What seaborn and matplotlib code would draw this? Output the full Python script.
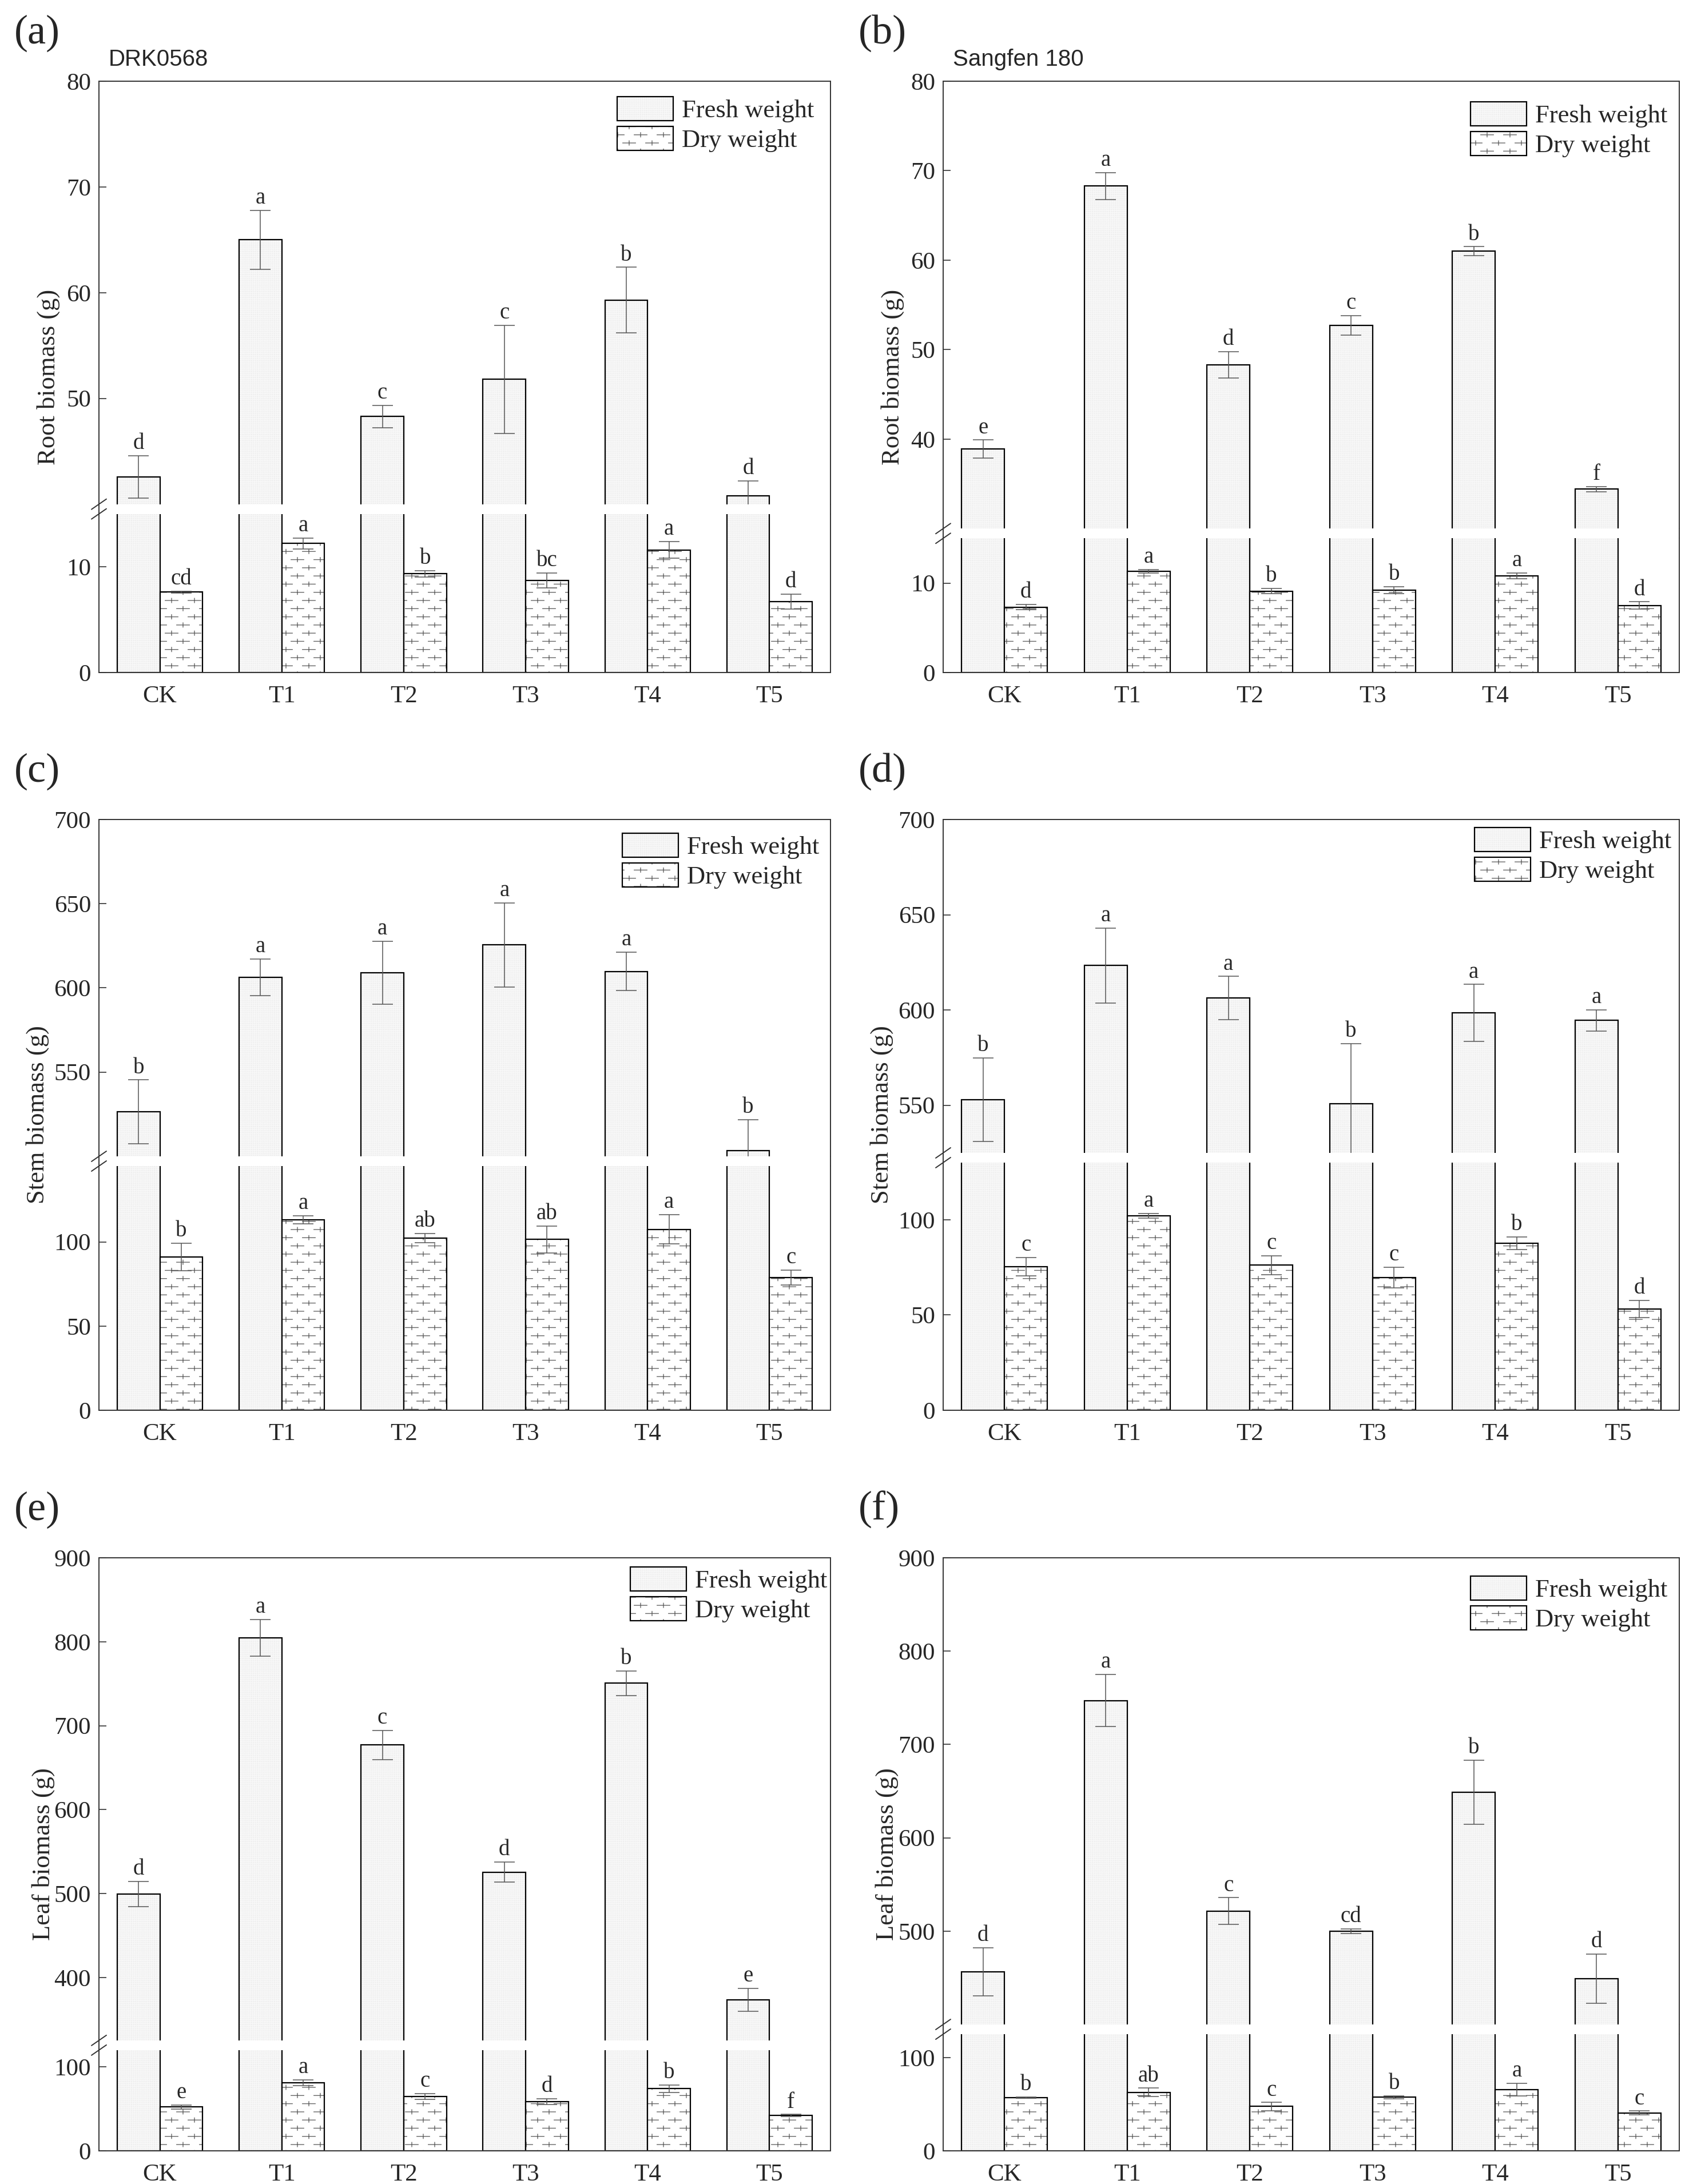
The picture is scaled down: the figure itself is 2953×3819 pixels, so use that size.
import numpy as np
import pandas as pd
import matplotlib
matplotlib.use("Agg")
import matplotlib.pyplot as plt
import matplotlib.hatch as mhatch
from matplotlib.lines import Line2D
from matplotlib.path import Path
import seaborn as sns

# ---------------- data ----------------
categories = ["CK", "T1", "T2", "T3", "T4", "T5"]
series_names = ["Fresh weight", "Dry weight"]

root_drk_fresh = [42.6, 65.0, 48.3, 51.8, 59.3, 40.8]
root_drk_fresh_err = [2.0, 2.8, 1.05, 5.1, 3.1, 1.4]
root_drk_dry = [7.6, 12.2, 9.35, 8.7, 11.6, 6.7]
root_drk_dry_err = [0.1, 0.5, 0.3, 0.7, 0.8, 0.7]
root_drk_fresh_letters = ["d", "a", "c", "c", "b", "d"]
root_drk_dry_letters = ["cd", "a", "b", "bc", "a", "d"]

root_sf_fresh = [38.9, 68.3, 48.3, 52.7, 61.0, 34.4]
root_sf_fresh_err = [1.0, 1.5, 1.5, 1.1, 0.5, 0.3]
root_sf_dry = [7.3, 11.3, 9.1, 9.2, 10.8, 7.5]
root_sf_dry_err = [0.3, 0.2, 0.3, 0.4, 0.35, 0.4]
root_sf_fresh_letters = ["e", "a", "d", "c", "b", "f"]
root_sf_dry_letters = ["d", "a", "b", "b", "a", "d"]

stem_drk_fresh = [526.4, 606.3, 609.0, 625.5, 609.8, 503.3]
stem_drk_fresh_err = [19.0, 11.0, 18.7, 25.0, 11.4, 18.4]
stem_drk_dry = [91.0, 113.1, 102.2, 101.4, 107.4, 78.7]
stem_drk_dry_err = [8.2, 2.5, 2.7, 8.0, 8.7, 4.4]
stem_drk_fresh_letters = ["b", "a", "a", "a", "a", "b"]
stem_drk_dry_letters = ["b", "a", "ab", "ab", "a", "c"]

stem_sf_fresh = [552.9, 623.3, 606.3, 550.7, 598.4, 594.5]
stem_sf_fresh_err = [22.0, 19.7, 11.3, 31.7, 15.0, 5.5]
stem_sf_dry = [75.4, 102.2, 76.1, 69.6, 87.7, 53.1]
stem_sf_dry_err = [4.8, 1.2, 5.0, 5.5, 3.4, 4.6]
stem_sf_fresh_letters = ["b", "a", "a", "b", "a", "a"]
stem_sf_dry_letters = ["c", "a", "c", "c", "b", "d"]

leaf_drk_fresh = [499.2, 804.6, 677.0, 525.4, 750.6, 373.3]
leaf_drk_fresh_err = [15.0, 22.0, 17.5, 12.0, 14.7, 13.6]
leaf_drk_dry = [52.2, 81.3, 64.8, 58.8, 74.2, 42.3]
leaf_drk_dry_err = [2.2, 3.3, 3.3, 3.3, 4.4, 1.1]
leaf_drk_fresh_letters = ["d", "a", "c", "d", "b", "e"]
leaf_drk_dry_letters = ["e", "a", "c", "d", "b", "f"]

leaf_sf_fresh = [456.4, 747.0, 521.6, 500.0, 649.0, 449.0]
leaf_sf_fresh_err = [26.0, 28.0, 14.2, 2.5, 34.3, 26.5]
leaf_sf_dry = [56.9, 62.7, 47.5, 57.4, 65.7, 40.7]
leaf_sf_dry_err = [0.7, 4.4, 4.4, 1.5, 6.9, 1.9]
leaf_sf_fresh_letters = ["d", "a", "c", "cd", "b", "d"]
leaf_sf_dry_letters = ["b", "ab", "c", "b", "a", "c"]

panel_labels = ["(a)", "(b)", "(c)", "(d)", "(e)", "(f)"]
cultivar_names = ["DRK0568", "Sangfen 180"]
y_labels = ["Root biomass (g)", "Stem biomass (g)", "Leaf biomass (g)"]

# --------------- custom "plus sign" hatch ---------------
class PlusSignHatch(mhatch.HatchPatternBase):
    def __init__(self, hatch, density):
        self.on = hatch.count("O") > 0
        self.cols, self.rows = 5, 14
        n = (self.cols * (self.rows // 2) + (self.cols + 1) * (self.rows // 2))
        self.num_vertices = n * 4 if self.on else 0

    def set_vertices_and_codes(self, vertices, codes):
        hx, hy = 0.056, 0.019
        k = 0
        for j in range(self.rows):
            y = (j + 0.5) / self.rows
            if j % 2 == 0:
                xs = [(i + 0.5) / self.cols for i in range(self.cols)]
            else:
                xs = [i / self.cols for i in range(self.cols + 1)]
            for x in xs:
                vertices[k:k + 4] = [[x - hx, y], [x + hx, y], [x, y - hy], [x, y + hy]]
                codes[k:k + 4] = [Path.MOVETO, Path.LINETO, Path.MOVETO, Path.LINETO]
                k += 4


mhatch._hatch_types = [t for t in mhatch._hatch_types if t is not mhatch.LargeCircles] + [PlusSignHatch]

# --------------- style ---------------
sns.set_style("ticks")
plt.rcParams["font.family"] = ["Liberation Serif", "DejaVu Serif"]
plt.rcParams["hatch.linewidth"] = 0.5
plt.rcParams["axes.edgecolor"] = "#333333"

W, H = 2953, 3819
DPI = 200
fig = plt.figure(figsize=(W / DPI, H / DPI), dpi=DPI)

FRESH_FACE = "#ededed"
FRESH_HATCH_COLOR = "#f8f8f8"
DRY_FACE = "white"
DRY_HATCH_COLOR = "#666666"
GAP = 17

panels = [
    dict(lab=0, cul=0, yl=0, f=root_drk_fresh, fe=root_drk_fresh_err, d=root_drk_dry, de=root_drk_dry_err,
         fl=root_drk_fresh_letters, dl=root_drk_dry_letters, top=(40, 80), bmax=15,
         tt=[50, 60, 70, 80], bt=[0, 10], box=(173, 1452, 142, 1176), yoff=88, leg=(1079, 169)),
    dict(lab=1, cul=1, yl=0, f=root_sf_fresh, fe=root_sf_fresh_err, d=root_sf_dry, de=root_sf_dry_err,
         fl=root_sf_fresh_letters, dl=root_sf_dry_letters, top=(30, 80), bmax=15,
         tt=[40, 50, 60, 70, 80], bt=[0, 10], box=(1649, 2936, 142, 1176), yoff=88, leg=(2571, 178)),
    dict(lab=2, cul=None, yl=1, f=stem_drk_fresh, fe=stem_drk_fresh_err, d=stem_drk_dry, de=stem_drk_dry_err,
         fl=stem_drk_fresh_letters, dl=stem_drk_dry_letters, top=(500, 700), bmax=145,
         tt=[550, 600, 650, 700], bt=[0, 50, 100], box=(173, 1452, 1433, 2466), yoff=107, leg=(1088, 1457)),
    dict(lab=3, cul=None, yl=1, f=stem_sf_fresh, fe=stem_sf_fresh_err, d=stem_sf_dry, de=stem_sf_dry_err,
         fl=stem_sf_fresh_letters, dl=stem_sf_dry_letters, top=(525, 700), bmax=130,
         tt=[550, 600, 650, 700], bt=[0, 50, 100], box=(1649, 2936, 1433, 2466), yoff=107, leg=(2578, 1447)),
    dict(lab=4, cul=None, yl=2, f=leaf_drk_fresh, fe=leaf_drk_fresh_err, d=leaf_drk_dry, de=leaf_drk_dry_err,
         fl=leaf_drk_fresh_letters, dl=leaf_drk_dry_letters, top=(325, 900), bmax=120,
         tt=[400, 500, 600, 700, 800, 900], bt=[0, 100], box=(173, 1452, 2724, 3761), yoff=97, leg=(1102, 2740)),
    dict(lab=5, cul=None, yl=2, f=leaf_sf_fresh, fe=leaf_sf_fresh_err, d=leaf_sf_dry, de=leaf_sf_dry_err,
         fl=leaf_sf_fresh_letters, dl=leaf_sf_dry_letters, top=(400, 900), bmax=125,
         tt=[500, 600, 700, 800, 900], bt=[0, 100], box=(1649, 2936, 2724, 3761), yoff=98, leg=(2571, 2756)),
]

TICK_FS = 15.5
LETTER_FS = 14
LEGEND_FS = 16
LABEL_FS = 16
SPINE_LW = 0.7
SPINE_C = "#333333"


def fx(px):
    return px / W


def fy(py):
    return 1 - py / H


for p in panels:
    L, R, T, B = p["box"]
    t0, t1 = p["top"]
    b1 = p["bmax"]
    ppu = (B - T - GAP) / ((t1 - t0) + b1)
    h_top = (t1 - t0) * ppu
    h_bot = b1 * ppu
    ax_top = fig.add_axes([fx(L), fy(T + h_top), (R - L) / W, h_top / H])
    ax_bot = fig.add_axes([fx(L), fy(B), (R - L) / W, h_bot / H])

    df = pd.DataFrame({
        "Treatment": categories * 2,
        "Type": [s for s in series_names for _ in categories],
        "Biomass": list(p["f"]) + list(p["d"]),
    })

    for which, ax in (("top", ax_top), ("bot", ax_bot)):
        sns.barplot(data=df, x="Treatment", y="Biomass", hue="Type", order=categories,
                    hue_order=series_names, palette={"Fresh weight": FRESH_FACE, "Dry weight": DRY_FACE},
                    width=0.7, gap=0, errorbar=None, saturation=1, edgecolor="black",
                    linewidth=0.8, legend=False, ax=ax)
        bars_fresh, bars_dry = ax.containers[0], ax.containers[1]
        for patch in bars_fresh:
            patch.set_hatch("+" * 10)
            patch._hatch_color = matplotlib.colors.to_rgba(FRESH_HATCH_COLOR)
        for patch in bars_dry:
            patch.set_hatch("O")
            patch._hatch_color = matplotlib.colors.to_rgba(DRY_HATCH_COLOR)

        for cont, errs, letters, show in ((bars_fresh, p["fe"], p["fl"], which == "top"),
                                           (bars_dry, p["de"], p["dl"], which == "bot")):
            xs = [b.get_x() + b.get_width() / 2 for b in cont]
            ys = [b.get_height() for b in cont]
            ax.errorbar(xs, ys, yerr=errs, fmt="none", ecolor="#555555", elinewidth=0.55,
                        capsize=6.5, capthick=0.55, zorder=5)
            if show:
                for x, y, e, t in zip(xs, ys, errs, letters):
                    ax.annotate(t, xy=(x, y + e), xytext=(0, 1), textcoords="offset points",
                                ha="center", va="bottom", fontsize=LETTER_FS)

        ax.set_xlim(-0.5, 5.5)
        ax.set_xlabel("")
        ax.set_ylabel("")
        for s in ax.spines.values():
            s.set_linewidth(SPINE_LW)
            s.set_color(SPINE_C)
        ax.tick_params(axis="y", direction="in", length=4.5, width=0.6, labelsize=TICK_FS, pad=5,
                       color=SPINE_C)

    ax_top.set_ylim(t0, t1)
    ax_top.set_yticks(p["tt"])
    ax_top.spines["bottom"].set_visible(False)
    ax_top.tick_params(axis="x", bottom=False, labelbottom=False)

    ax_bot.set_ylim(0, b1)
    ax_bot.set_yticks(p["bt"])
    ax_bot.spines["top"].set_visible(False)
    ax_bot.tick_params(axis="x", direction="in", length=4, width=0.6, labelsize=TICK_FS, pad=8,
                       color=SPINE_C)

    # continuous frame through the break
    y_a = T + h_top
    y_b = B - h_bot
    for xx in (L, R):
        fig.add_artist(Line2D([fx(xx), fx(xx)], [fy(y_a), fy(y_b)], color=SPINE_C, lw=SPINE_LW))
    # break marks
    for yy in (y_a, y_b):
        fig.add_artist(Line2D([fx(L - 13), fx(L + 13)], [fy(yy + 9), fy(yy - 9)],
                              color=SPINE_C, lw=0.7))

    # legend
    ax_top.legend(handles=[ax_top.containers[0], ax_top.containers[1]], labels=series_names,
                  loc="upper left", bbox_to_anchor=(fx(p["leg"][0]), fy(p["leg"][1])),
                  bbox_transform=fig.transFigure, frameon=False, fontsize=LEGEND_FS,
                  handlelength=2.2, handleheight=1.08, labelspacing=0.15,
                  handletextpad=0.35, borderpad=0, borderaxespad=0)

    # panel label, cultivar, y label
    fig.text(fx(L - 148), fy(T - 84), panel_labels[p["lab"]], fontsize=26, ha="left", va="center")
    if p["cul"] is not None:
        fig.text(fx(L + 17), fy(T - 38), cultivar_names[p["cul"]], fontsize=14.5,
                 family=["Liberation Sans", "DejaVu Sans"], ha="left", va="center")
    fig.text(fx(L - p["yoff"]), fy((T + B) / 2), y_labels[p["yl"]], rotation=90,
             fontsize=LABEL_FS, ha="center", va="center")

fig.savefig("out.png", dpi=DPI)
